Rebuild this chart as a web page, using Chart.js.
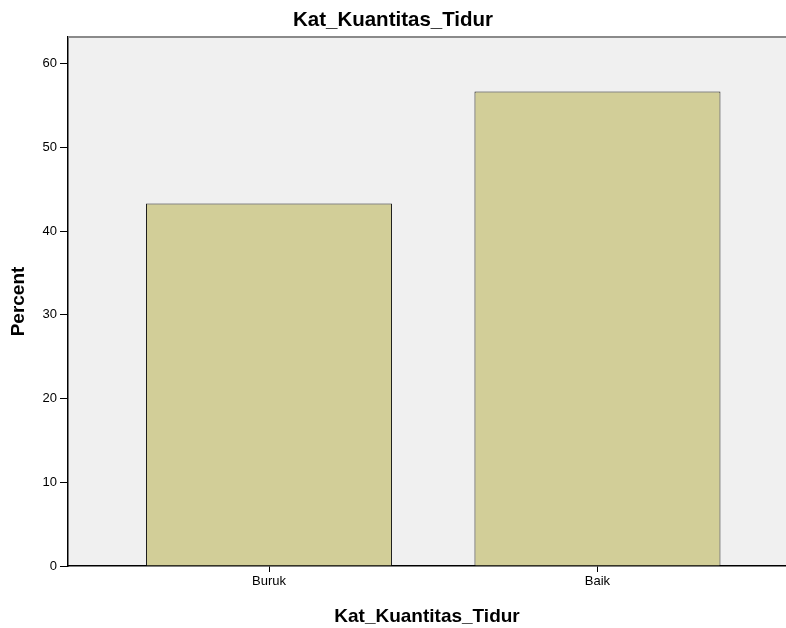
<!DOCTYPE html>
<html>
<head>
<meta charset="utf-8">
<script src="https://cdn.jsdelivr.net/npm/chart.js@4/dist/chart.umd.min.js"></script>
<style>
  html, body { margin: 0; padding: 0; background: #ffffff; }
  #wrap { width: 786px; height: 628px; }
</style>
</head>
<body>
<div id="wrap"><canvas id="c" width="786" height="628"></canvas></div>
<script>
const chartTitle = "Kat_Kuantitas_Tidur";
const xAxisTitle = "Kat_Kuantitas_Tidur";
const yAxisTitle = "Percent";
const categories = ["Buruk", "Baik"];
const percentValues = [43.3, 56.7];
const yTicks = [0, 10, 20, 30, 40, 50, 60];

const FONT = "'Liberation Sans', Arial, sans-serif";

const plotBg = {
  id: 'plotBg',
  beforeDraw(chart) {
    const { ctx, chartArea: a } = chart;
    ctx.save();
    ctx.fillStyle = '#f0f0f0';
    ctx.fillRect(a.left, a.top, a.right - a.left, a.bottom - a.top);
    ctx.restore();
  },
  afterDraw(chart) {
    const { ctx, chartArea: a } = chart;
    ctx.save();
    ctx.strokeStyle = '#8a8a8a';
    ctx.lineWidth = 2;
    ctx.beginPath();
    ctx.moveTo(a.left, a.top);
    ctx.lineTo(a.right, a.top);
    ctx.stroke();
    ctx.restore();
  }
};

new Chart(document.getElementById('c'), {
  type: 'bar',
  data: {
    datasets: [{
      data: categories.map((c, i) => ({ x: i, y: percentValues[i] })),
      backgroundColor: '#d2ce98',
      borderColor: '#1e1e1e',
      borderWidth: 1,
      barPercentage: 0.749,
      categoryPercentage: 1.0
    }]
  },
  plugins: [plotBg],
  options: {
    responsive: false,
    animation: false,
    devicePixelRatio: 1,
    layout: { padding: { left: 0, right: 0, top: 0, bottom: 0 } },
    plugins: {
      legend: { display: false },
      tooltip: { enabled: false },
      title: {
        display: true,
        text: chartTitle,
        color: '#000000',
        font: { family: FONT, size: 20.5, weight: 'bold' },
        padding: { top: 8, bottom: 4.4 }
      }
    },
    scales: {
      x: {
        type: 'linear',
        offset: false,
        min: -0.612,
        max: 1.574,
        afterBuildTicks(scale) {
          scale.ticks = categories.map((c, i) => ({ value: i }));
        },
        afterFit(scale) { scale.height = 62; },
        ticks: {
          color: '#000000',
          font: { family: FONT, size: 13 },
          padding: 2,
          callback: (v) => categories[v] !== undefined ? categories[v] : ''
        },
        grid: {
          display: true,
          offset: false,
          drawOnChartArea: false,
          drawTicks: true,
          tickLength: 6,
          color: '#000000'
        },
        border: { display: true, color: '#000000', width: 1.5 },
        title: {
          display: true,
          text: xAxisTitle,
          color: '#000000',
          font: { family: FONT, size: 19, weight: 'bold' },
          padding: { top: 9, bottom: 0 }
        }
      },
      y: {
        type: 'linear',
        min: 0,
        max: 63.2,
        afterBuildTicks(scale) {
          scale.ticks = yTicks.map(v => ({ value: v }));
        },
        afterFit(scale) { scale.width = 68; },
        ticks: {
          color: '#000000',
          font: { family: FONT, size: 13 },
          padding: 3
        },
        grid: {
          display: true,
          drawOnChartArea: false,
          drawTicks: true,
          tickLength: 8,
          color: '#000000'
        },
        border: { display: true, color: '#000000', width: 1.5 },
        title: {
          display: true,
          text: yAxisTitle,
          color: '#000000',
          font: { family: FONT, size: 19, weight: 'bold' },
          padding: { top: 7.5, bottom: 2 }
        }
      }
    }
  }
});
</script>
</body>
</html>
